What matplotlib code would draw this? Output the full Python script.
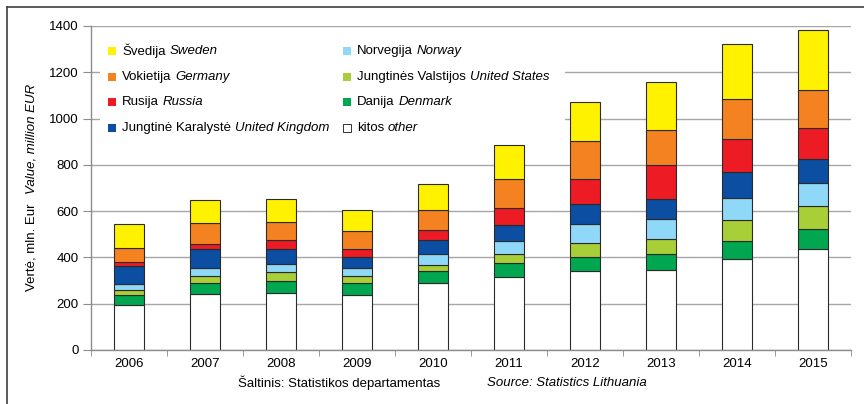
import matplotlib.pyplot as plt
from matplotlib.patches import Rectangle
from matplotlib.lines import Line2D

plt.rcParams['font.family'] = ['Liberation Sans', 'DejaVu Sans']

years = ['2006', '2007', '2008', '2009', '2010', '2011', '2012', '2013', '2014', '2015']

# stack order: bottom -> top
other = [193, 241, 246, 236, 289, 314, 343, 345, 394, 437]
denmark = [43, 47, 53, 52, 52, 60, 61, 69, 79, 88]
usa = [23, 33, 38, 32, 26, 40, 59, 64, 90, 97]
norway = [25, 32, 33, 33, 49, 59, 83, 90, 95, 100]
uk = [80, 83, 66, 50, 61, 68, 84, 84, 109, 105]
russia = [16, 22, 38, 33, 42, 73, 107, 148, 144, 134]
germany = [62, 89, 78, 79, 88, 125, 164, 152, 172, 164]
sweden = [101, 100, 100, 90, 110, 147, 172, 206, 239, 259]

series = [
    (other, '#ffffff'),
    (denmark, '#00a650'),
    (usa, '#a8cf38'),
    (norway, '#8fd8f8'),
    (uk, '#0b4ea2'),
    (russia, '#ed1c24'),
    (germany, '#f58220'),
    (sweden, '#fff200'),
]

# legend entries (Lithuanian, English, colour), two columns
legend_col1 = [('Švedija', 'Sweden', '#fff200'),
               ('Vokietija', 'Germany', '#f58220'),
               ('Rusija', 'Russia', '#ed1c24'),
               ('Jungtinė Karalystė', 'United Kingdom', '#0b4ea2')]
legend_col2 = [('Norvegija', 'Norway', '#8fd8f8'),
               ('Jungtinės Valstijos', 'United States', '#a8cf38'),
               ('Danija', 'Denmark', '#00a650'),
               ('kitos', 'other', '#ffffff')]

W, H = 864, 404
fig = plt.figure(figsize=(W / 100, H / 100), dpi=100)


def px(x):
    return x / W


def py(y):
    return 1 - y / H


ax = fig.add_axes([px(91), py(350), px(851) - px(91), py(26) - py(350)])

fs = 9.5
grey = '#8c8c8c'

x = range(len(years))
bottom = [0] * len(years)
for vals, col in series:
    ax.bar(x, vals, width=0.4, bottom=bottom, color=col,
           edgecolor='#2a2a2a', linewidth=0.8, zorder=2)
    bottom = [b + v for b, v in zip(bottom, vals)]

ax.set_xlim(-0.5, len(years) - 0.5)
ax.set_ylim(0, 1400)
ax.set_yticks(range(0, 1401, 200))
ax.set_xticks(list(x))
ax.set_xticklabels(years)
ax.set_xticks([i - 0.5 for i in range(len(years) + 1)], minor=True)
ax.tick_params(axis='x', which='major', length=0, labelsize=fs, pad=6)
ax.tick_params(axis='x', which='minor', length=4, color=grey, direction='out')
ax.tick_params(axis='y', length=6, color=grey, labelsize=fs, pad=3)

ax.yaxis.grid(True, color='#a6a6a6', linewidth=1)
ax.set_axisbelow(True)
for s in ['top', 'right']:
    ax.spines[s].set_visible(False)
for s in ['left', 'bottom']:
    ax.spines[s].set_color(grey)
    ax.spines[s].set_linewidth(1)

# white area behind the legend hides the grid
ax.add_patch(Rectangle((0.012, 0.648), 0.612, 0.33, transform=ax.transAxes,
                       facecolor='white', edgecolor='none', zorder=1))

# legend: regular Lithuanian text followed by italic English text
rows_y = [51, 77, 102, 128]
for (col, mx, tx) in [(legend_col1, 108, 122), (legend_col2, 343, 357)]:
    for (lt, en, c), yy in zip(col, rows_y):
        fig.patches.append(Rectangle((px(mx), py(yy + 4)), px(8), 8 / H,
                                     transform=fig.transFigure, facecolor=c,
                                     edgecolor='#333333' if c == '#ffffff' else 'none',
                                     linewidth=0.7))
        t = fig.text(px(tx), py(yy), lt, fontsize=fs, va='center', ha='left')
        ax.annotate(en, xy=(1, 0.5), xycoords=t, xytext=(2.7, 0),
                    textcoords='offset points', va='center', ha='left',
                    fontsize=fs, style='italic', annotation_clip=False)

# y-axis label
yl = fig.text(px(31), py(247), 'Vertė, mln. Eur', rotation=90,
              ha='center', va='center', fontsize=fs)
ax.annotate('Value, million EUR', xy=(0.5, 1), xycoords=yl, xytext=(0, 6.5),
            textcoords='offset points', rotation=90, ha='center', va='bottom',
            fontsize=fs, style='italic', annotation_clip=False)

# source line
fig.text(px(238), py(383), 'Šaltinis: Statistikos departamentas',
         ha='left', va='center', fontsize=fs)
fig.text(px(487), py(383), 'Source: Statistics Lithuania',
         ha='left', va='center', fontsize=fs, style='italic')

# frame around the figure (top and left edges visible)
fig.add_artist(Line2D([px(7), px(864)], [py(7), py(7)], color='#404040', linewidth=1.2))
fig.add_artist(Line2D([px(7), px(7)], [py(7), py(404)], color='#404040', linewidth=1.2))

fig.savefig('out.png', dpi=100)
